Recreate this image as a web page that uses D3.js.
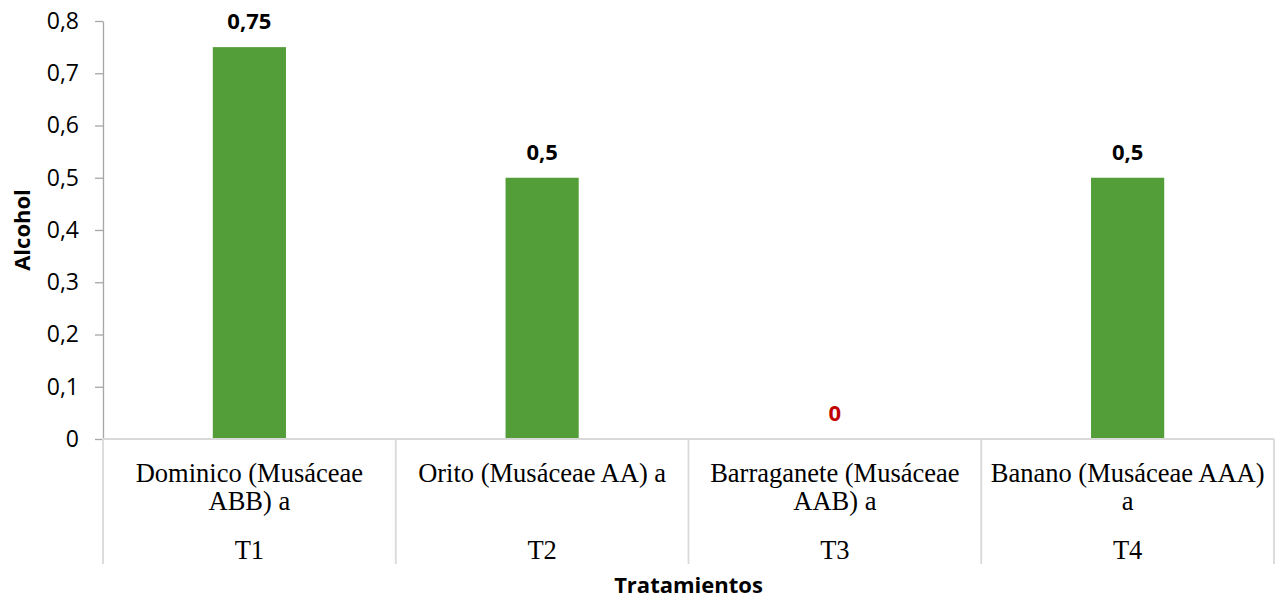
<!DOCTYPE html>
<html>
<head>
<meta charset="utf-8">
<script src="https://cdn.jsdelivr.net/npm/d3@7"></script>
<style>
  html, body { margin: 0; padding: 0; background: #ffffff; }
  svg { display: block; }
</style>
</head>
<body>
<svg id="chart" width="1282" height="600"></svg>
<script>
// Alcohol content by treatment (plantain / banana varieties)
const categories = [
  "Dominico (Musáceae ABB) a",
  "Orito (Musáceae AA) a",
  "Barraganete (Musáceae AAB) a",
  "Banano (Musáceae AAA) a"
];
const treatments = ["T1", "T2", "T3", "T4"];
const alcohol = [0.75, 0.5, 0, 0.5];
const yTicks = [0, 0.1, 0.2, 0.3, 0.4, 0.5, 0.6, 0.7, 0.8];
const yTickLabels = ["0", "0,1", "0,2", "0,3", "0,4", "0,5", "0,6", "0,7", "0,8"];
const yTitle = "Alcohol";
const xTitle = "Tratamientos";

const svg = d3.select("#chart");
const plot = { left: 103, right: 1274, top: 21, bottom: 439 };
const axisBottomEnd = 564;

const x = d3.scaleBand()
  .domain(treatments)
  .range([plot.left, plot.right])
  .paddingInner(0)
  .paddingOuter(0);

const y = d3.scaleLinear()
  .domain([0, 0.8])
  .range([plot.bottom, plot.top]);

const barWidth = x.bandwidth() * 0.25;
const fmt = v => String(v).replace(".", ",");

// Y axis
const yAxis = svg.append("g")
  .attr("transform", `translate(${plot.left},0)`)
  .call(d3.axisLeft(y)
    .tickValues(yTicks)
    .tickFormat((d, i) => yTickLabels[i])
    .tickSize(8)
    .tickSizeOuter(0)
    .tickPadding(16));
yAxis.select(".domain").attr("stroke", "#a6a6a6").attr("stroke-width", 1.3);
yAxis.selectAll(".tick line").attr("stroke", "#a6a6a6").attr("stroke-width", 1.3);
yAxis.selectAll(".tick text")
  .attr("fill", "#000")
  .style("font-family", "'Open Sans', sans-serif")
  .style("font-size", "23px");

// Bars
svg.append("g").selectAll("rect")
  .data(alcohol)
  .join("rect")
  .attr("x", (d, i) => x(treatments[i]) + (x.bandwidth() - barWidth) / 2)
  .attr("width", barWidth)
  .attr("y", d => y(d))
  .attr("height", d => y(0) - y(d))
  .attr("fill", "#549e39");

// Value labels
svg.append("g").selectAll("text")
  .data(alcohol)
  .join("text")
  .attr("x", (d, i) => x(treatments[i]) + x.bandwidth() / 2)
  .attr("y", d => y(d) - 18)
  .attr("text-anchor", "middle")
  .style("font-family", "'Open Sans', sans-serif")
  .style("font-size", "22px")
  .style("font-weight", "bold")
  .attr("fill", d => d === 0 ? "#c00000" : "#000000")
  .text(d => fmt(d));

// Category axis: baseline and band separators
const grid = svg.append("g").attr("stroke", "#d9d9d9").attr("stroke-width", 1.8);
grid.append("line")
  .attr("x1", plot.left).attr("x2", plot.right)
  .attr("y1", plot.bottom).attr("y2", plot.bottom);
const edges = treatments.map(t => x(t)).concat([x(treatments[treatments.length - 1]) + x.bandwidth()]);
grid.selectAll("line.sep")
  .data(edges)
  .join("line")
  .attr("class", "sep")
  .attr("x1", d => d).attr("x2", d => d)
  .attr("y1", plot.bottom).attr("y2", axisBottomEnd);

// Category labels, wrapped to the band width
const labelFont = "'Liberation Serif', 'Times New Roman', serif";
const labelSize = 26.5;
const maxWidth = x.bandwidth() - 8;

const catGroup = svg.append("g");
categories.forEach((name, i) => {
  const cx = x(treatments[i]) + x.bandwidth() / 2;
  const t = catGroup.append("text")
    .attr("x", cx)
    .attr("y", 482)
    .attr("text-anchor", "middle")
    .style("font-family", labelFont)
    .style("font-size", labelSize + "px")
    .attr("fill", "#000");
  const words = name.split(" ");
  let lines = [];
  let line = [];
  const probe = t.append("tspan");
  words.forEach(w => {
    const trial = line.concat([w]).join(" ");
    probe.text(trial);
    if (probe.node().getComputedTextLength() > maxWidth && line.length) {
      lines.push(line.join(" "));
      line = [w];
    } else {
      line.push(w);
    }
  });
  lines.push(line.join(" "));
  probe.remove();
  lines.forEach((l, k) => {
    t.append("tspan")
      .attr("x", cx)
      .attr("y", 482 + k * 28)
      .text(l);
  });
});

// Treatment codes
svg.append("g").selectAll("text")
  .data(treatments)
  .join("text")
  .attr("x", d => x(d) + x.bandwidth() / 2)
  .attr("y", 559)
  .attr("text-anchor", "middle")
  .style("font-family", labelFont)
  .style("font-size", labelSize + "px")
  .attr("fill", "#000")
  .text(d => d);

// Axis titles
svg.append("text")
  .attr("transform", `translate(30,${(plot.top + plot.bottom) / 2}) rotate(-90)`)
  .attr("text-anchor", "middle")
  .style("font-family", "'Open Sans', sans-serif")
  .style("font-size", "22px")
  .style("font-weight", "bold")
  .attr("fill", "#000")
  .text(yTitle);

svg.append("text")
  .attr("x", (plot.left + plot.right) / 2)
  .attr("y", 593)
  .attr("text-anchor", "middle")
  .style("font-family", "'Open Sans', sans-serif")
  .style("font-size", "22px")
  .style("font-weight", "bold")
  .attr("fill", "#000")
  .text(xTitle);
</script>
</body>
</html>
